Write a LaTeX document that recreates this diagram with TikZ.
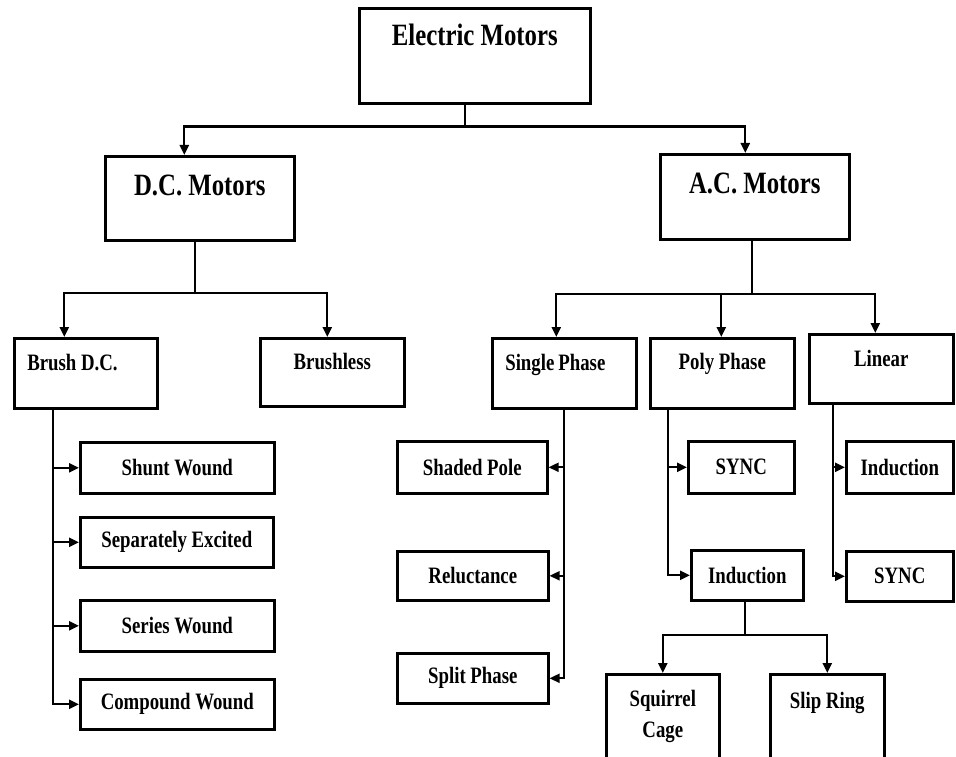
\documentclass[tikz,border=0pt]{standalone}
\usepackage{fontspec}
\setmainfont{Liberation Serif}[FakeStretch=0.8]
\usetikzlibrary{arrows.meta}

\newcommand{\lefttext}[2]{\makebox[#1][l]{#2}}

\begin{document}
\begin{tikzpicture}[
    x=1pt, y=-1pt,
    line width=2.2pt,
    arr/.style={draw,-{Triangle[length=10pt,width=9pt]}},
    box/.style={draw,line width=2.6pt,inner sep=0pt,anchor=north west,align=center},
    root/.style={box,font=\fontsize{31}{34}\selectfont\bfseries},
    par/.style={box,font=\fontsize{23.5}{31}\selectfont\bfseries},
    leaf/.style={box,font=\fontsize{23.5}{31}\selectfont\bfseries}
]
\useasboundingbox (0,0) rectangle (956,757);

% top levels
\node[root,minimum width=231pt,text height=37pt,text depth=58pt] (em) at (358,7) {Electric Motors};
\node[root,minimum width=189pt,text height=39pt,text depth=45pt] (dc) at (104,155) {D.C. Motors};
\node[root,minimum width=189pt,text height=39pt,text depth=46pt] (ac) at (659,153) {A.C. Motors};

% second level
\node[par,minimum width=143pt,text height=32pt,text depth=38pt] (brush) at (13,337) {\lefttext{117pt}{Brush D.C.}};
\node[par,minimum width=144pt,text height=31pt,text depth=37pt] (brushless) at (259,337) {Brushless};
\node[par,minimum width=144pt,text height=32pt,text depth=38pt] (single) at (491,337) {\lefttext{118pt}{Single\kern4pt Phase}};
\node[par,minimum width=144pt,text height=31pt,text depth=39pt] (poly) at (649,337) {Poly Phase};
\node[par,minimum width=144pt,text height=32pt,text depth=37pt] (linear) at (808,333) {Linear};

% leaves
\node[leaf,minimum width=194pt,minimum height=51pt] (shunt) at (79,441) {Shunt Wound};
\node[leaf,minimum width=193pt,minimum height=50pt] (sepex) at (79,516) {Separately Excited};
\node[leaf,minimum width=194pt,minimum height=51pt] (series) at (79,599) {Series Wound};
\node[leaf,minimum width=194pt,minimum height=50pt] (compound) at (79,678) {Compound Wound};
\node[leaf,minimum width=150pt,minimum height=52pt] (shaded) at (396,440) {Shaded Pole};
\node[leaf,minimum width=151pt,minimum height=49pt] (reluct) at (396,550) {Reluctance};
\node[leaf,minimum width=151pt,minimum height=50pt] (split) at (396,652) {Split Phase};
\node[leaf,minimum width=106pt,minimum height=52pt] (psync) at (687,440) {SYNC};
\node[leaf,minimum width=112pt,minimum height=50pt] (pind) at (690,549) {Induction};
\node[leaf,minimum width=107pt,minimum height=52pt] (lind) at (845,440) {Induction};
\node[leaf,minimum width=107pt,minimum height=50pt] (lsync) at (845,550) {SYNC};
\node[leaf,minimum width=113pt,minimum height=84pt] (squirrel) at (605,673) {Squirrel\\Cage};
\node[par,minimum width=114pt,text height=34pt,text depth=50pt] (slip) at (769,673) {Slip Ring};

% connectors
\draw ([xshift=-9.5pt]em.south) -- ++(0,22) coordinate (emj);
\draw[arr] (emj) -| ([xshift=-15.5pt]dc.north);
\draw[arr] (emj) -| ([xshift=-9.5pt]ac.north);

\draw ([xshift=-4.5pt]dc.south) -- ++(0,51) coordinate (dcj);
\draw[arr] (dcj) -| ([xshift=-21.5pt]brush.north);
\draw[arr] (dcj) -| ([xshift=-5pt]brushless.north);

\draw ([xshift=-2.5pt]ac.south) -- ++(0,53) coordinate (acj);
\draw[arr] (acj) -| ([xshift=-8pt]single.north);
\draw[arr] (acj) -| ([xshift=-1pt]poly.north);
\draw[arr] (acj) -| ([xshift=-6pt]linear.north);

\coordinate (bt) at ([xshift=-32.5pt]brush.south);
\foreach \n in {shunt,sepex,series,compound}
    \draw[arr] (bt) |- (\n.west);

\foreach \n in {shaded,reluct,split}
    \draw[arr] (single.south) |- (\n.east);

\coordinate (pt) at ([xshift=-54pt]poly.south);
\foreach \n in {psync,pind}
    \draw[arr] (pt) |- (\n.west);

\coordinate (lt) at ([xshift=-48pt]linear.south);
\foreach \n in {lind,lsync}
    \draw[arr] (lt) |- (\n.west);

\draw ([xshift=-2pt]pind.south) -- ++(0,33) coordinate (pj);
\draw[arr] (pj) -| (squirrel.north);
\draw[arr] (pj) -| (slip.north);

\end{tikzpicture}
\end{document}
